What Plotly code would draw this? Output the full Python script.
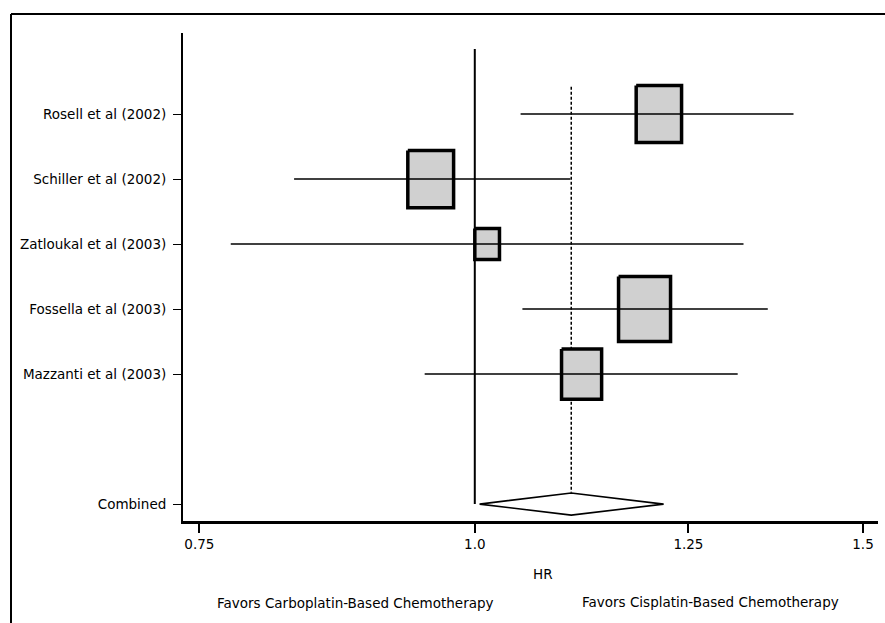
import numpy as np
import plotly.graph_objects as go

# ---- data ----
studies = ["Rosell et al (2002)", "Schiller et al (2002)", "Zatloukal et al (2003)",
           "Fossella et al (2003)", "Mazzanti et al (2003)"]
hr = [1.212, 0.955, 1.013, 1.194, 1.118]
ci_low = [1.049, 0.828, 0.775, 1.051, 0.949]
ci_high = [1.395, 1.105, 1.324, 1.358, 1.316]
weight = [22.7, 23.1, 6.7, 29.8, 17.7]  # relative study weight (%)
combined_label = "Combined"
combined_hr = 1.106
combined_low = 1.005
combined_high = 1.218
x_ticks = [0.75, 1.0, 1.25, 1.5]
x_tick_labels = ["0.75", "1.0", "1.25", "1.5"]
x_title = "HR"
left_note = "Favors Carboplatin-Based Chemotherapy"
right_note = "Favors Cisplatin-Based Chemotherapy"

# ---- layout geometry ----
W, H = 885, 623
ML, MR, MT, MB = 183, 7, 33, 102
PW, PH = W - ML - MR, H - MT - MB
FONT = "DejaVu Sans, Liberation Sans, Arial, sans-serif"
FS = 13.5

study_pos = [1, 2, 3, 4, 5]
combined_pos = 7

fig = go.Figure()

# reference line at HR = 1
fig.add_trace(go.Scatter(x=[1.0, 1.0], y=[0, combined_pos], mode="lines",
                         line=dict(color="black", width=2), hoverinfo="skip"))
# dashed line at combined estimate
fig.add_trace(go.Scatter(x=[combined_hr, combined_hr], y=[0.58, combined_pos - 0.18], mode="lines",
                         line=dict(color="black", width=1.5, dash="3px,2px"), hoverinfo="skip"))

# boxes (size from weight)
for h, w, p in zip(hr, weight, study_pos):
    half_w = 0.00995 * np.sqrt(w) / 2
    half_h = 0.1833 * np.sqrt(w) / 2
    x0, x1 = h * np.exp(-half_w), h * np.exp(half_w)
    fig.add_trace(go.Scatter(x=[x0, x1, x1, x0, x0], y=[p - half_h, p - half_h, p + half_h, p + half_h, p - half_h],
                             mode="lines", fill="toself", fillcolor="#d0d0d0",
                             line=dict(color="black", width=3.5), hoverinfo="skip"))

# confidence intervals
for lo, hi_, p in zip(ci_low, ci_high, study_pos):
    fig.add_trace(go.Scatter(x=[lo, hi_], y=[p, p], mode="lines",
                             line=dict(color="black", width=1.6), hoverinfo="skip"))

# combined diamond
fig.add_trace(go.Scatter(
    x=[combined_low, combined_hr, combined_high, combined_hr, combined_low],
    y=[combined_pos, combined_pos - 0.17, combined_pos, combined_pos + 0.17, combined_pos],
    mode="lines", line=dict(color="black", width=1.6), hoverinfo="skip"))

fig.update_layout(
    width=W, height=H,
    margin=dict(l=ML, r=MR, t=MT, b=MB),
    paper_bgcolor="white", plot_bgcolor="white",
    showlegend=False,
    font=dict(family=FONT, size=FS, color="black"),
    xaxis=dict(type="log", range=[np.log10(0.7373), np.log10(1.5237)],
               tickvals=x_ticks, ticktext=x_tick_labels,
               showgrid=False, zeroline=False, showline=True, linecolor="black", linewidth=2.5,
               ticks="outside", ticklen=9, tickwidth=1.5, tickcolor="black",
               tickfont=dict(family=FONT, size=FS, color="black")),
    yaxis=dict(range=[combined_pos + 0.26, -0.246],
               tickvals=study_pos + [combined_pos], ticktext=studies + [combined_label],
               showgrid=False, zeroline=False, showline=True, linecolor="black", linewidth=2,
               ticks="outside", ticklen=8, tickwidth=1.2, tickcolor="black",
               ticklabelstandoff=4,
               tickfont=dict(family=FONT, size=FS, color="black")),
)

def px(xp):
    return (xp - ML) / PW

def py(yp):
    return (H - MB - yp) / PH

fig.add_annotation(text=x_title, x=px(543), y=py(574), xref="paper", yref="paper",
                   showarrow=False, xanchor="center", yanchor="middle", font=dict(size=FS))
fig.add_annotation(text=left_note, x=px(355), y=py(603), xref="paper", yref="paper",
                   showarrow=False, xanchor="center", yanchor="middle", font=dict(size=FS))
fig.add_annotation(text=right_note, x=px(710), y=py(602), xref="paper", yref="paper",
                   showarrow=False, xanchor="center", yanchor="middle", font=dict(size=FS))

# outer frame (top and left edges)
fig.add_shape(type="line", xref="paper", yref="paper", x0=px(11), x1=px(885), y0=py(14), y1=py(14),
              line=dict(color="black", width=2))
fig.add_shape(type="line", xref="paper", yref="paper", x0=px(11), x1=px(11), y0=py(14), y1=py(623),
              line=dict(color="black", width=2))

fig.write_html("out.html")
